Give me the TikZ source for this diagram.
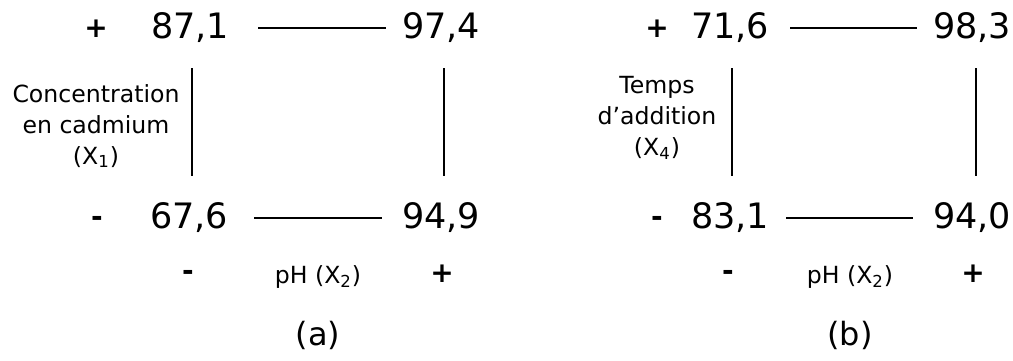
\documentclass[tikz,border=0pt]{standalone}
\usepackage{fontspec}
\setmainfont{DejaVu Sans}
\usetikzlibrary{calc}
\tikzset{
  value/.style={inner sep=0pt, font=\fontsize{17.5}{20}\selectfont},
  sign/.style={inner sep=0pt, font=\fontsize{14}{16}\selectfont\bfseries},
  factor/.style={inner sep=0pt, align=center,
    font=\fontsize{11.8}{15.5}\selectfont},
  caption/.style={inner sep=0pt, font=\fontsize{16}{19}\selectfont},
  link/.style={draw, line width=0.75pt}
}

\begin{document}
\begin{tikzpicture}[x=0.5pt, y=-0.5pt]
  \useasboundingbox (0,0) rectangle (1013,360);

  % Panel (a): cadmium x pH
  \node[sign] (ap1) at (96,29) {+};
  \node[value] (a11) at (190,28) {87,1};
  \node[value] (a12) at (441,28) {97,4};
  \node[sign] (am1) at (97,221) {-};
  \node[value] (a21) at (189,218) {67,6};
  \node[value] (a22) at (441,218) {94,9};
  \node[factor] (ax1) at (96,126) {Concentration\\en cadmium\\(X\textsubscript{1})};
  \node[sign] (am2) at (188,275) {-};
  \node[factor] (ax2) at (318,277) {pH (X\textsubscript{2})};
  \node[sign] (ap2) at (442,274) {+};
  \node[caption] (acap) at (318,335) {(a)};

  \draw[link, shorten <=14.5pt, shorten >=8pt] (a11.east) -- (a12.west);
  \draw[link, shorten <=13pt, shorten >=10pt] (a21.east) -- (a22.west);
  \draw[link, shorten <=12.5pt, shorten >=13.5pt] ($(a11.south)+(2,0)$) -- ($(a21.north)+(3,0)$);
  \draw[link, shorten <=12.5pt, shorten >=13.5pt] ($(a12.south)+(3,0)$) -- ($(a22.north)+(3,0)$);

  % Panel (b): addition time x pH
  \node[sign] (bp1) at (657,29) {+};
  \node[value] (b11) at (730,28) {71,6};
  \node[value] (b12) at (972,28) {98,3};
  \node[sign] (bm1) at (657,221) {-};
  \node[value] (b21) at (730,218) {83,1};
  \node[value] (b22) at (972,218) {94,0};
  \node[factor] (bx4) at (657,118) {Temps\\d'addition\\(X\textsubscript{4})};
  \node[sign] (bm2) at (728,275) {-};
  \node[factor] (bx2) at (850,277) {pH (X\textsubscript{2})};
  \node[sign] (bp2) at (973,274) {+};
  \node[caption] (bcap) at (850,335) {(b)};

  \draw[link, shorten <=10.5pt, shorten >=8pt] (b11.east) -- (b12.west);
  \draw[link, shorten <=8.5pt, shorten >=10pt] (b21.east) -- (b22.west);
  \draw[link, shorten <=12.5pt, shorten >=13.5pt] ($(b11.south)+(2,0)$) -- ($(b21.north)+(2,0)$);
  \draw[link, shorten <=12.5pt, shorten >=13.5pt] ($(b12.south)+(4,0)$) -- ($(b22.north)+(4,0)$);

\end{tikzpicture}
\end{document}
